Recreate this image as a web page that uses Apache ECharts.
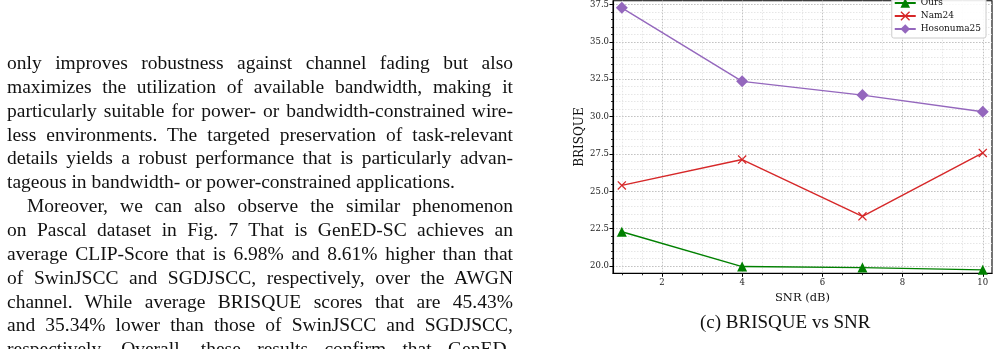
<!DOCTYPE html>
<html>
<head>
<meta charset="utf-8">
<script src="https://cdn.jsdelivr.net/npm/echarts@6/dist/echarts.min.js"></script>
<style>
  html, body { margin: 0; padding: 0; background: #fff; }
  #chart { position: absolute; left: 0; top: 0; width: 998px; height: 349px; }
  #text { position: absolute; left: 7px; top: 51px; width: 506px;
          font-family: 'Liberation Serif', 'Times New Roman', serif; font-size: 19.5px;
          line-height: 23.86px; color: #111; }
  #text div { white-space: nowrap; overflow: visible; }
  #text div.j { text-align: justify; text-align-last: justify; white-space: normal; }
  #text div.ind { text-indent: 20px; }
</style>
</head>
<body>
<div id="chart"></div>
<div id="text"></div>
<script>
// ---- data ----
const snr = [1, 4, 7, 10];
const ours = [22.3, 19.97, 19.9, 19.75];
const nam24 = [25.4, 27.13, 23.33, 27.57];
const hosonuma25 = [37.28, 32.36, 31.44, 30.33];
const seriesNames = ['Ours', 'Nam24', 'Hosonuma25'];
const xMajorTicks = [2, 4, 6, 8, 10];
const yMajorTicks = [20, 22.5, 25, 27.5, 30, 32.5, 35, 37.5];
const xMinorTicks = [1, 1.5, 2, 2.5, 3, 3.5, 4, 4.5, 5, 5.5, 6, 6.5, 7, 7.5, 8, 8.5, 9, 9.5, 10];
const yMinorTicks = [20, 20.5, 21, 21.5, 22, 22.5, 23, 23.5, 24, 24.5, 25, 25.5, 26, 26.5, 27, 27.5, 28, 28.5,
                     29, 29.5, 30, 30.5, 31, 31.5, 32, 32.5, 33, 33.5, 34, 34.5, 35, 35.5, 36, 36.5, 37, 37.5];
const xLabel = 'SNR (dB)';
const yLabel = 'BRISQUE';
const caption = '(c) BRISQUE vs SNR';

const paragraphLines = [
  ['only improves robustness against channel fading but also', 'j'],
  ['maximizes the utilization of available bandwidth, making it', 'j'],
  ['particularly suitable for power- or bandwidth-constrained wire-', 'j'],
  ['less environments. The targeted preservation of task-relevant', 'j'],
  ['details yields a robust performance that is particularly advan-', 'j'],
  ['tageous in bandwidth- or power-constrained applications.', ''],
  ['Moreover, we can also observe the similar phenomenon', 'j ind'],
  ['on Pascal dataset in Fig. 7 That is GenED-SC achieves an', 'j'],
  ['average CLIP-Score that is 6.98% and 8.61% higher than that', 'j'],
  ['of SwinJSCC and SGDJSCC, respectively, over the AWGN', 'j'],
  ['channel. While average BRISQUE scores that are 45.43%', 'j'],
  ['and 35.34% lower than those of SwinJSCC and SGDJSCC,', 'j'],
  ['respectively. Overall, these results confirm that GenED-', 'j']
];

const textBox = document.getElementById('text');
paragraphLines.forEach(([t, cls]) => {
  const d = document.createElement('div');
  d.className = cls;
  d.textContent = t;
  textBox.appendChild(d);
});

const FONT = 'DejaVu Serif';
const X_MIN = 0.78, X_MAX = 10.23, Y_MIN = 19.52, Y_MAX = 37.75;
const pair = (xs, ys) => xs.map((x, i) => [x, ys[i]]);
const xMarker = 'path://M1,0 L5,4 L9,0 L10,1 L6,5 L10,9 L9,10 L5,6 L1,10 L0,9 L4,5 L0,1 Z';

const chart = echarts.init(document.getElementById('chart'), null, { renderer: 'canvas' });
const minorGrid = { show: true, lineStyle: { color: '#e0e0e0', type: [1.5, 1.5], width: 0.8 } };
const majorGrid = { show: true, lineStyle: { color: '#c0c0c0', type: [1.5, 1.5], width: 0.9 } };
const labelStyle = { fontFamily: FONT, fontSize: 8.5, color: '#222' };

chart.setOption({
  animation: false,
  grid: { left: 613, right: 6, top: -6, bottom: 75.7, show: true, borderColor: '#000', borderWidth: 1.1,
          backgroundColor: 'transparent', containLabel: false },
  xAxis: [
    { type: 'value', min: X_MIN, max: X_MAX, position: 'bottom',
      axisLine: { show: true, onZero: false, lineStyle: { color: '#000', width: 1.1 } },
      axisTick: { show: true, customValues: xMinorTicks, length: 2, lineStyle: { color: '#000', width: 0.8 } },
      axisLabel: { show: false }, splitLine: minorGrid },
    { type: 'value', min: X_MIN, max: X_MAX, position: 'bottom', offset: 0,
      axisLine: { show: false, onZero: false },
      axisTick: { show: true, customValues: xMajorTicks, length: 3.5, lineStyle: { color: '#000', width: 1 } },
      axisLabel: { show: true, customValues: xMajorTicks, margin: 5, ...labelStyle },
      splitLine: majorGrid,
      name: xLabel, nameLocation: 'middle', nameGap: 9,
      nameTextStyle: { fontFamily: FONT, fontSize: 11.5, color: '#111', verticalAlign: 'top' } }
  ],
  yAxis: [
    { type: 'value', min: Y_MIN, max: Y_MAX, position: 'left',
      axisLine: { show: true, onZero: false, lineStyle: { color: '#000', width: 1.1 } },
      axisTick: { show: true, customValues: yMinorTicks, length: 2, lineStyle: { color: '#000', width: 0.8 } },
      axisLabel: { show: false }, splitLine: minorGrid },
    { type: 'value', min: Y_MIN, max: Y_MAX, position: 'left', offset: 0,
      axisLine: { show: false, onZero: false },
      axisTick: { show: true, customValues: yMajorTicks, length: 3.5, lineStyle: { color: '#000', width: 1 } },
      axisLabel: { show: true, customValues: yMajorTicks, margin: 4, formatter: v => Number(v).toFixed(1), ...labelStyle },
      splitLine: majorGrid,
      name: yLabel, nameLocation: 'middle', nameGap: 20, nameRotate: 90,
      nameTextStyle: { fontFamily: FONT, fontSize: 12, color: '#111' } }
  ],
  legend: {
    orient: 'vertical', right: 12, top: -6, padding: [3, 5, 3, 2],
    itemWidth: 21, itemHeight: 12, itemGap: 1,
    backgroundColor: 'rgba(255,255,255,0.9)', borderColor: '#cccccc', borderWidth: 1, borderRadius: 2,
    textStyle: { fontFamily: FONT, fontSize: 9, color: '#111', lineHeight: 12 },
    data: seriesNames
  },
  series: [
    { name: seriesNames[0], type: 'line', xAxisIndex: 0, yAxisIndex: 0, data: pair(snr, ours),
      symbol: 'triangle', symbolSize: 10, color: '#008000',
      lineStyle: { width: 1.4, color: '#008000' }, itemStyle: { color: '#008000' } },
    { name: seriesNames[1], type: 'line', xAxisIndex: 0, yAxisIndex: 0, data: pair(snr, nam24),
      symbol: xMarker, symbolSize: 9, color: '#d62728',
      lineStyle: { width: 1.4, color: '#d62728' }, itemStyle: { color: '#d62728' } },
    { name: seriesNames[2], type: 'line', xAxisIndex: 0, yAxisIndex: 0, data: pair(snr, hosonuma25),
      symbol: 'diamond', symbolSize: 12, color: '#9467bd',
      lineStyle: { width: 1.4, color: '#9467bd' }, itemStyle: { color: '#9467bd' } }
  ],
  graphic: [
    { type: 'text', left: 700, top: 314,
      style: { text: caption, font: '19px "Liberation Serif", "Times New Roman", serif', fill: '#111' } }
  ]
});
</script>
</body>
</html>
